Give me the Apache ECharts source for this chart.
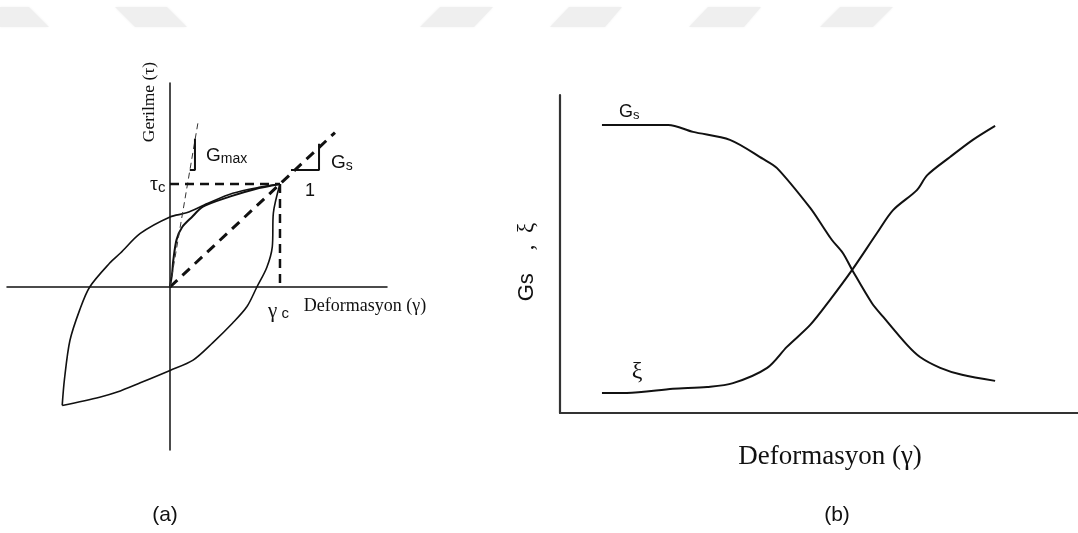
<!DOCTYPE html>
<html>
<head>
<meta charset="utf-8">
<script src="https://cdn.jsdelivr.net/npm/echarts@6/dist/echarts.min.js"></script>
<style>
  html, body { margin: 0; padding: 0; background: #fff; }
  #chart { width: 1078px; height: 533px; }
</style>
</head>
<body>
<div id="chart"></div>
<script>
// (a) Hysteresis loop, strain normalised by γc and stress by τc
const loopReloading = [[-0.98,-1.15],[-0.96,-0.90],[-0.91,-0.52],[-0.82,-0.22],[-0.73,0.00],[-0.55,0.23],[-0.45,0.33],[-0.27,0.52],[0.00,0.68],[0.15,0.72],[0.34,0.81],[0.57,0.91],[0.82,0.97],[1.00,1.00]];
const loopUnloading = [[1.00,1.00],[0.94,0.72],[0.93,0.39],[0.88,0.19],[0.79,0.00],[0.70,-0.19],[0.57,-0.35],[0.39,-0.54],[0.21,-0.71],[0.00,-0.81],[-0.27,-0.93],[-0.48,-1.02],[-0.64,-1.07],[-0.98,-1.15]];
const backbone = [[0.00,0.00],[0.02,0.14],[0.03,0.26],[0.06,0.46],[0.11,0.58],[0.20,0.68],[0.30,0.78],[0.55,0.88],[0.77,0.95],[1.00,1.00]];
const secantLine = [[0,0],[1.5,1.5]];          // slope Gs
const tangentLine = [[0,0],[0.255,1.60]];      // slope Gmax
const tauCLine = [[0,1],[1,1]];
const gammaCLine = [[1,1],[1,0]];
const gmaxStep = [[0.18,1.136],[0.227,1.136],[0.227,1.44]];
const gsStep = [[1.10,1.136],[1.355,1.136],[1.355,1.39]];

// (b) Secant modulus and damping ratio against strain
const gsCurve = [[0.81,9.06],[2.09,9.06],[2.57,8.84],[3.28,8.59],[3.92,7.99],[4.19,7.70],[4.83,6.45],[5.08,5.85],[5.25,5.44],[5.46,5.03],[5.64,4.50],[6.02,3.46],[6.24,3.02],[6.70,2.14],[6.95,1.76],[7.34,1.42],[7.76,1.20],[8.40,1.01]];
const xiCurve = [[0.81,0.63],[1.29,0.63],[2.18,0.76],[2.84,0.82],[3.34,0.94],[4.00,1.42],[4.38,2.08],[4.83,2.77],[5.21,3.55],[5.64,4.50],[6.12,5.66],[6.43,6.38],[6.89,7.01],[7.09,7.48],[7.53,8.05],[7.97,8.59],[8.40,9.03]];

const INK = '#111';
const chart = echarts.init(document.getElementById('chart'));

function line(data, opts) {
  return Object.assign({
    type: 'line', data: data, showSymbol: false, symbol: 'none',
    silent: true, animation: false,
    lineStyle: { color: INK, width: 1.6 }
  }, opts);
}

const hiddenParts = {
  axisTick: { show: false }, axisLabel: { show: false }, splitLine: { show: false }
};

const serif = '"Liberation Serif", "DejaVu Serif", serif';
const sans = '"Liberation Sans", Arial, sans-serif';

function txt(x, y, text, font, extra) {
  return Object.assign({
    type: 'text', x: x, y: y, silent: true,
    style: { text: text, font: font, fill: INK, align: 'center', verticalAlign: 'middle' }
  }, extra || {});
}

function band(points) {
  return { type: 'polygon', silent: true, shape: { points: points },
    style: { fill: '#efefef', shadowBlur: 3, shadowColor: 'rgba(0,0,0,0.05)' } };
}

chart.setOption({
  animation: false,
  backgroundColor: '#fff',
  grid: [
    { left: 7, top: 83, width: 380, height: 367 },
    { left: 560, top: 95, width: 518, height: 318 }
  ],
  xAxis: [
    Object.assign({ type: 'value', gridIndex: 0, min: -1.482, max: 1.973,
      axisLine: { show: true, onZero: true, lineStyle: { color: INK, width: 1.5 } } }, hiddenParts),
    Object.assign({ type: 'value', gridIndex: 1, min: 0, max: 10, position: 'bottom',
      axisLine: { show: true, onZero: false, lineStyle: { color: '#333', width: 2.2 } } }, hiddenParts)
  ],
  yAxis: [
    Object.assign({ type: 'value', gridIndex: 0, min: -1.583, max: 1.981,
      axisLine: { show: true, onZero: true, lineStyle: { color: INK, width: 1.5 } } }, hiddenParts),
    Object.assign({ type: 'value', gridIndex: 1, min: 0, max: 10, position: 'left',
      axisLine: { show: true, onZero: false, lineStyle: { color: '#333', width: 2.2 } } }, hiddenParts)
  ],
  series: [
    line(loopReloading, { xAxisIndex: 0, yAxisIndex: 0, smooth: 0.3 }),
    line(loopUnloading, { xAxisIndex: 0, yAxisIndex: 0, smooth: 0.3 }),
    line(backbone, { xAxisIndex: 0, yAxisIndex: 0, smooth: 0.3, lineStyle: { color: INK, width: 2 } }),
    line(secantLine, { xAxisIndex: 0, yAxisIndex: 0, lineStyle: { color: INK, width: 3, type: [10, 7] } }),
    line(tangentLine, { xAxisIndex: 0, yAxisIndex: 0, lineStyle: { color: '#333', width: 1, type: [6, 4] } }),
    line(tauCLine, { xAxisIndex: 0, yAxisIndex: 0, lineStyle: { color: INK, width: 2.5, type: [9, 6] } }),
    line(gammaCLine, { xAxisIndex: 0, yAxisIndex: 0, lineStyle: { color: INK, width: 2.5, type: [9, 6] } }),
    line(gmaxStep, { xAxisIndex: 0, yAxisIndex: 0, lineStyle: { color: INK, width: 2 } }),
    line(gsStep, { xAxisIndex: 0, yAxisIndex: 0, lineStyle: { color: INK, width: 2 } }),
    line(gsCurve, { xAxisIndex: 1, yAxisIndex: 1, smooth: 0.3, lineStyle: { color: INK, width: 2 } }),
    line(xiCurve, { xAxisIndex: 1, yAxisIndex: 1, smooth: 0.3, lineStyle: { color: INK, width: 2 } })
  ],
  graphic: [
    // faint header bands
    band([[0,7],[29,7],[49,27],[0,27]]),
    band([[115,7],[167,7],[187,27],[135,27]]),
    band([[440,7],[493,7],[474,27],[420,27]]),
    band([[569,7],[622,7],[605,27],[550,27]]),
    band([[708,7],[761,7],[744,27],[689,27]]),
    band([[840,7],[893,7],[873,27],[820,27]]),

    // (a) labels
    txt(149, 102, 'Gerilme (τ)', '17.5px ' + serif, { rotation: Math.PI / 2 }),
    txt(365, 306, 'Deformasyon (γ)', '18px ' + serif),
    {
      type: 'text', x: 150, y: 185, silent: true,
      style: { text: '{g|τ}{s|c}', fill: INK, align: 'left', verticalAlign: 'middle',
        rich: { g: { font: '20px ' + serif, fill: INK }, s: { font: '15px ' + sans, fill: INK, padding: [6, 0, 0, 0] } } }
    },
    {
      type: 'text', x: 268, y: 311, silent: true,
      style: { text: '{g|γ}{s| c}', fill: INK, align: 'left', verticalAlign: 'middle',
        rich: { g: { font: '21px ' + serif, fill: INK }, s: { font: '15px ' + sans, fill: INK, padding: [6, 0, 0, 0] } } }
    },
    {
      type: 'text', x: 206, y: 156, silent: true,
      style: { text: '{g|G}{s|max}', fill: INK, align: 'left', verticalAlign: 'middle',
        rich: { g: { font: '19px ' + sans, fill: INK }, s: { font: '14px ' + sans, fill: INK, padding: [6, 0, 0, 0] } } }
    },
    {
      type: 'text', x: 331, y: 163, silent: true,
      style: { text: '{g|G}{s|s}', fill: INK, align: 'left', verticalAlign: 'middle',
        rich: { g: { font: '19px ' + sans, fill: INK }, s: { font: '14px ' + sans, fill: INK, padding: [6, 0, 0, 0] } } }
    },
    txt(310, 191, '1', '18px ' + sans),
    txt(165, 515, '(a)', '21px ' + sans),

    // (b) labels
    {
      type: 'text', x: 619, y: 112, silent: true,
      style: { text: '{g|G}{s|s}', fill: INK, align: 'left', verticalAlign: 'middle',
        rich: { g: { font: '18px ' + sans, fill: INK }, s: { font: '13px ' + sans, fill: INK, padding: [6, 0, 0, 0] } } }
    },
    txt(637, 372, 'ξ', '24px ' + serif),
    {
      type: 'text', x: 527, y: 262, silent: true, rotation: Math.PI / 2,
      style: { text: '{g|Gs}{c|    ,  ξ}', fill: INK, align: 'center', verticalAlign: 'middle',
        rich: { g: { font: '22px ' + sans, fill: INK }, c: { font: '23px ' + serif, fill: INK } } }
    },
    txt(830, 457, 'Deformasyon (γ)', '27px ' + serif),
    txt(837, 515, '(b)', '21px ' + sans)
  ]
});
</script>
</body>
</html>
